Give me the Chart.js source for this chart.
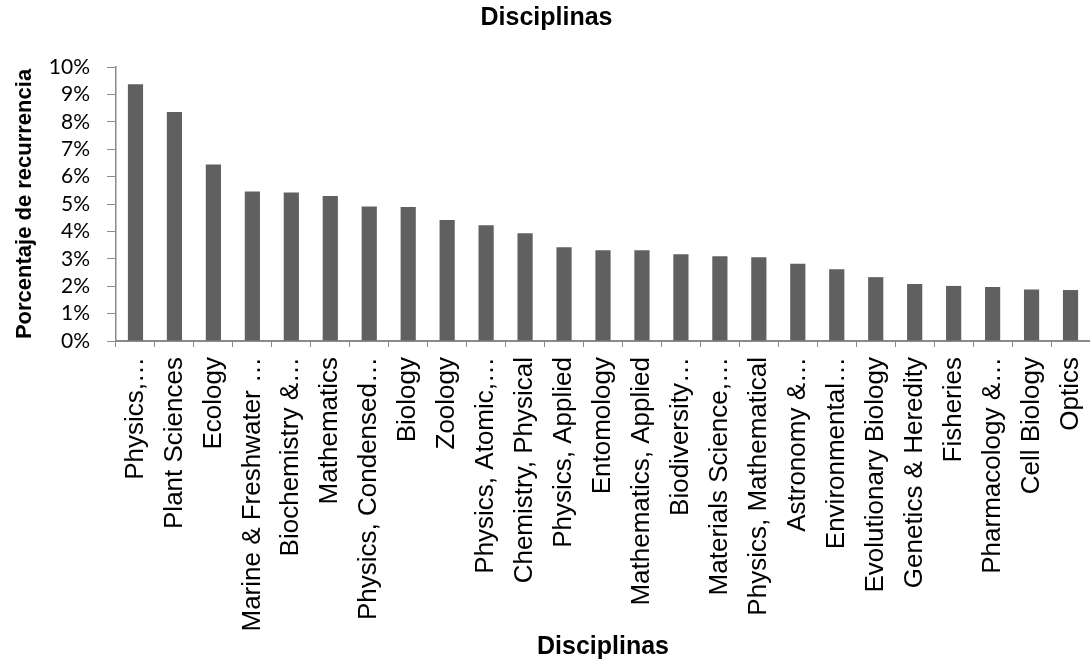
<!DOCTYPE html>
<html>
<head>
<meta charset="utf-8">
<script src="https://cdn.jsdelivr.net/npm/chart.js@4"></script>
<style>
  html, body { margin: 0; padding: 0; background: #fff; }
  #wrap { width: 1090px; height: 664px; }
</style>
</head>
<body>
<div id="wrap"><canvas id="chart" width="1090" height="664"></canvas></div>
<script>
// ===== Datos =====
const disciplinas = [
  "Physics,…", "Plant Sciences", "Ecology", "Marine & Freshwater …",
  "Biochemistry &…", "Mathematics", "Physics, Condensed…", "Biology",
  "Zoology", "Physics, Atomic,…", "Chemistry, Physical", "Physics, Applied",
  "Entomology", "Mathematics, Applied", "Biodiversity…", "Materials Science,…",
  "Physics, Mathematical", "Astronomy &…", "Environmental…", "Evolutionary Biology",
  "Genetics & Heredity", "Fisheries", "Pharmacology &…", "Cell Biology", "Optics"
];
const porcentajes = [
  9.37, 8.36, 6.44, 5.46, 5.42, 5.29, 4.91, 4.89, 4.42, 4.22,
  3.93, 3.42, 3.31, 3.31, 3.17, 3.09, 3.06, 2.82, 2.62, 2.33,
  2.08, 2.01, 1.97, 1.88, 1.86
];
const yTicks = [0, 1, 2, 3, 4, 5, 6, 7, 8, 9, 10];

const AXIS_GRAY = "#8a8a8a";

// ===== Grafico =====
const ctx = document.getElementById("chart").getContext("2d");

new Chart(ctx, {
  type: "bar",
  data: {
    labels: disciplinas,
    datasets: [{
      label: "Disciplinas",
      data: porcentajes,
      backgroundColor: "#606060",
      barPercentage: 0.39,
      categoryPercentage: 1
    }]
  },
  options: {
    responsive: false,
    animation: false,
    layout: { padding: { left: 0, right: -3, top: 0, bottom: 0 } },
    plugins: {
      legend: { display: false },
      tooltip: { enabled: false },
      title: {
        display: true,
        text: "Disciplinas",
        color: "#000",
        font: { family: "Liberation Sans", size: 25, weight: "bold" },
        padding: { top: 3, bottom: 34 }
      }
    },
    scales: {
      x: {
        // alto fijo y sin relleno lateral extra por las etiquetas giradas
        afterFit: (scale) => {
          scale.height = 323;
          scale.paddingLeft = 0;
          scale.paddingRight = 0;
        },
        grid: {
          drawOnChartArea: false,
          drawTicks: true,
          tickLength: 6,
          color: AXIS_GRAY
        },
        border: { color: AXIS_GRAY, width: 2 },
        ticks: {
          autoSkip: false,
          maxRotation: 90,
          minRotation: 90,
          padding: 10,
          color: "#000",
          font: { family: "Liberation Sans", size: 26 }
        },
        title: {
          display: true,
          text: "Disciplinas",
          color: "#000",
          font: { family: "Liberation Sans", size: 25, weight: "bold" },
          padding: { top: 0, bottom: 2 }
        }
      },
      y: {
        min: yTicks[0],
        max: yTicks[yTicks.length - 1],
        afterFit: (scale) => { scale.width = 116; },
        afterBuildTicks: (scale) => { scale.ticks = yTicks.map(v => ({ value: v })); },
        grid: {
          drawOnChartArea: false,
          drawTicks: true,
          tickLength: 9,
          color: AXIS_GRAY
        },
        border: { color: AXIS_GRAY, width: 1.5 },
        ticks: {
          autoSkip: false,
          padding: 17,
          color: "#000",
          font: { family: "Lato", size: 21 },
          callback: (v) => v + "%"
        },
        title: {
          display: true,
          text: "Porcentaje de recurrencia",
          color: "#000",
          font: { family: "Liberation Sans", size: 22, weight: "bold" },
          padding: { top: 12, bottom: 0 }
        }
      }
    }
  }
});
</script>
</body>
</html>
